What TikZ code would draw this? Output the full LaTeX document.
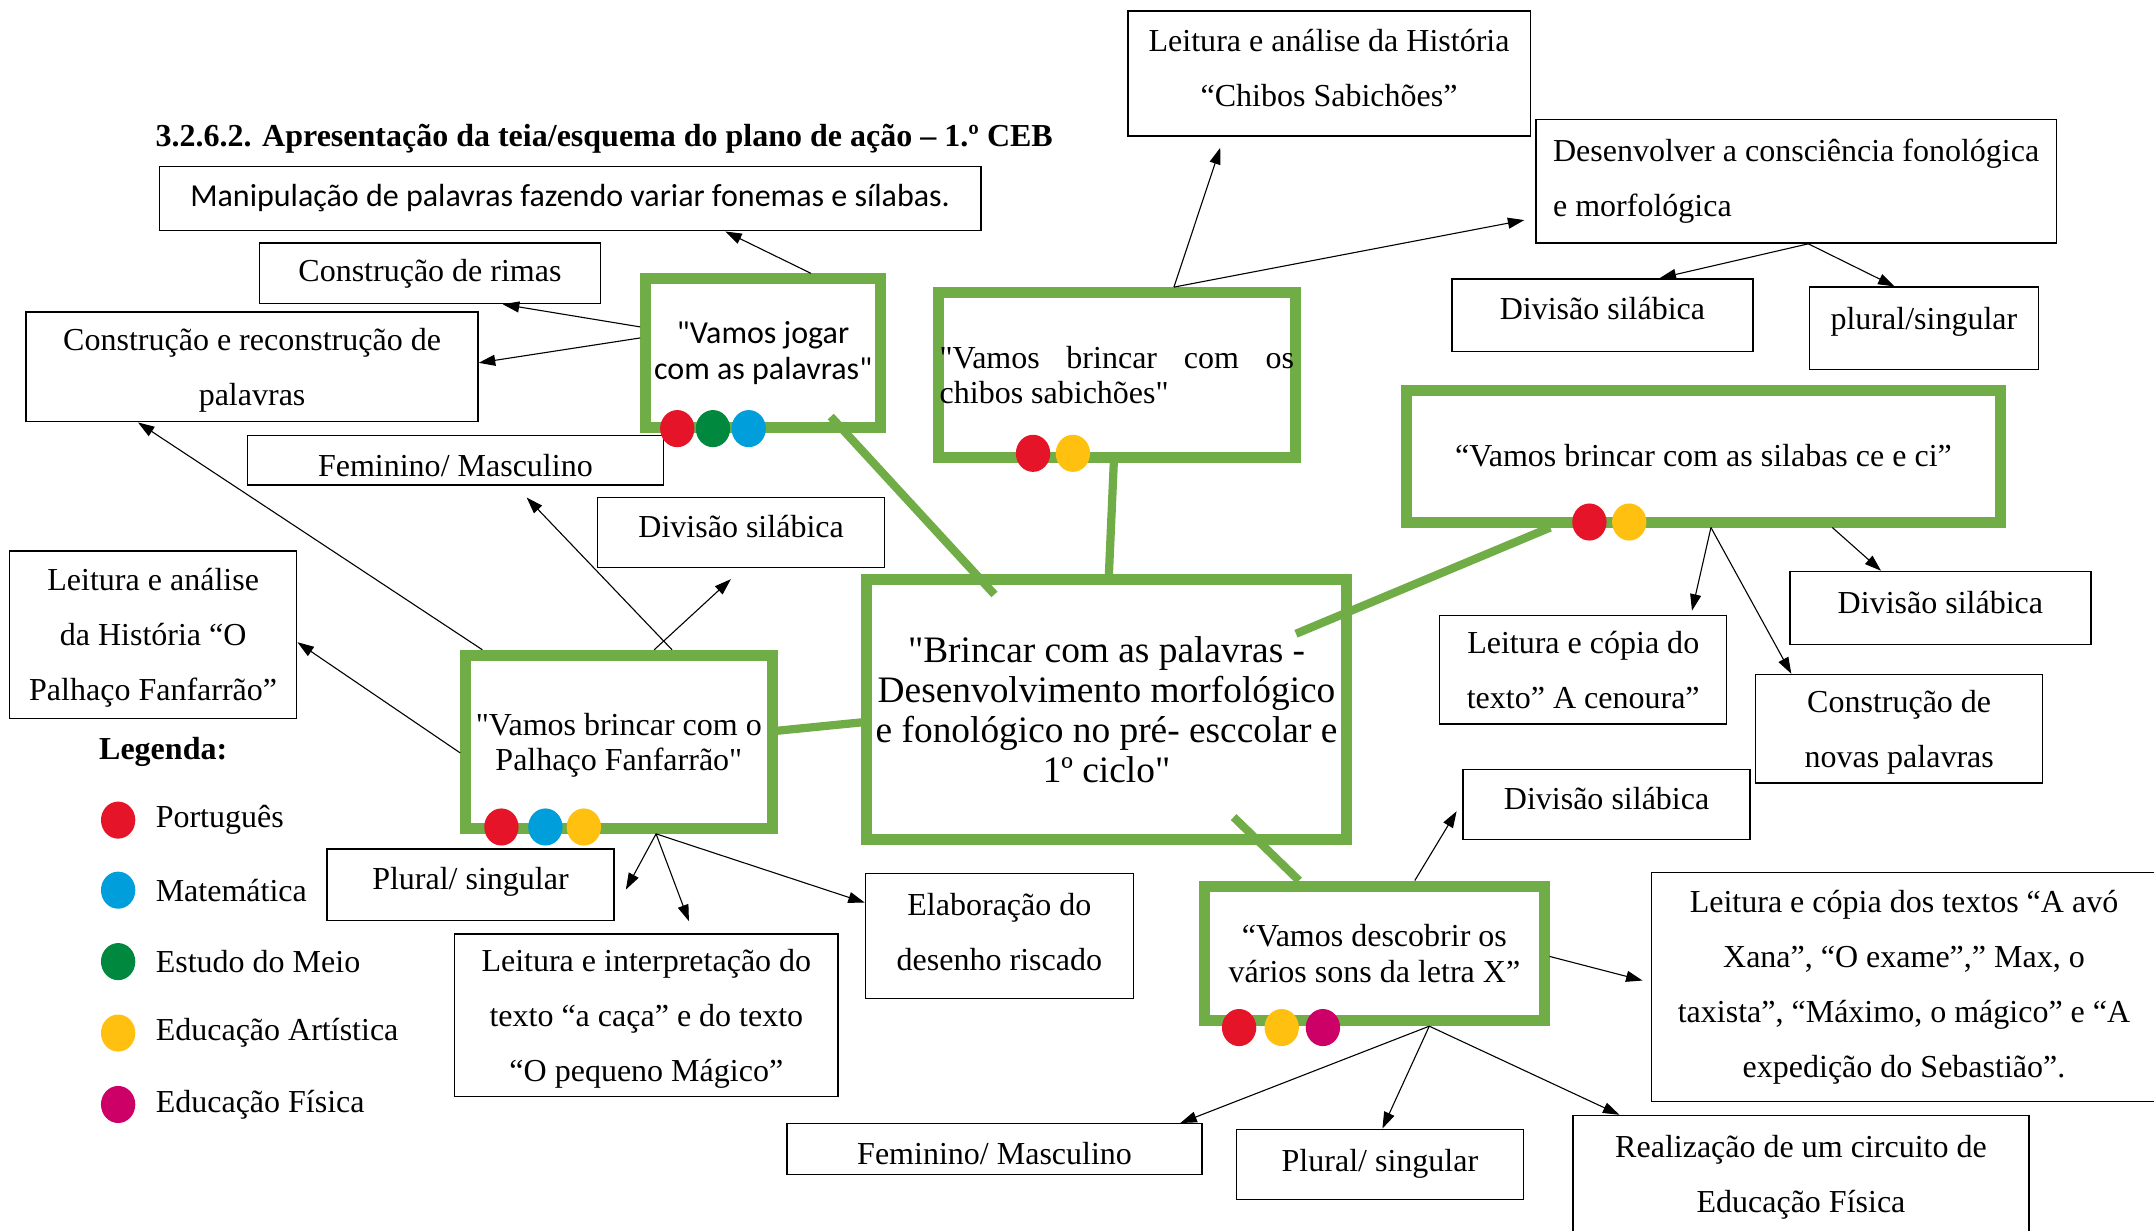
\documentclass[tikz,border=0pt]{standalone}
\usepackage{fontspec}
\setmainfont{Liberation Serif}[Ligatures=TeXOff]
\newfontfamily\calibri{Carlito}[Ligatures=TeXOff]
\usepackage{tikz}
\usetikzlibrary{shapes,arrows.meta,positioning}
\definecolor{actgreen}{RGB}{112, 173, 71}
\definecolor{port}{RGB}{230, 20, 40}
\definecolor{mat}{RGB}{0, 158, 218}
\definecolor{meio}{RGB}{0, 137, 62}
\definecolor{art}{RGB}{255, 192, 16}
\definecolor{fis}{RGB}{204, 0, 102}
\newcommand{\boxfont}{\fontsize{23.3}{40}\selectfont}
\newcommand{\actfont}{\fontsize{23.3}{26}\selectfont}
\newcommand{\hubfont}{\fontsize{27.2}{29}\selectfont}
\tikzstyle{task} = [rectangle, draw=black, line width=1pt, fill=white, align=center, inner sep=0pt, font=\boxfont]
\tikzstyle{act} = [rectangle, draw=actgreen, line width=8pt, fill=white, align=center, inner sep=0pt, font=\actfont]
\tikzstyle{hub} = [act, font=\hubfont]
\tikzstyle{subj} = [ellipse, draw=none, minimum width=25pt, minimum height=27pt, inner sep=0pt]
\tikzstyle{tedge} = [draw, line width=0.8pt, -{Triangle[length=12pt, width=8pt]}]
\tikzstyle{link} = [draw=actgreen, line width=6pt]
\tikzstyle{legtext} = [inner sep=0pt, font=\boxfont]

\begin{document}
\begin{tikzpicture}[x=1pt, y=-1pt]
\useasboundingbox (0,0) rectangle (1568,896);

% Title and legend =============================
\node[anchor=west, inner sep=0pt, font=\boxfont\bfseries] (title) at (113,101) {3.2.6.2. Apresentação da teia/esquema do plano de ação – 1.º CEB};
\node[anchor=west, inner sep=0pt, font=\boxfont\bfseries] (legenda) at (72,547) {Legenda:};
\foreach \y/\c/\t [count=\i] in {597/port/Português, 648/mat/Matemática, 700/meio/Estudo do Meio, 752/art/Educação Artística, 804/fis/Educação Física}{
  \node[subj, fill=\c] (leg-dot-\i) at (86,\y) {};
  \node[legtext, right=14.5pt of leg-dot-\i] (leg-\i) {\t};
}

% Activities =============================
\node[hub, minimum width=349pt, minimum height=189pt, text depth=-2pt] (brincar) at (805.5,516.5) {"Brincar com as palavras -\\Desenvolvimento morfológico\\e fonológico no pré- esccolar e\\1º ciclo"};
\node[act, minimum width=171pt, minimum height=108pt, font=\calibri\actfont] (jogar) at (555.5,257) {"Vamos jogar\\com as palavras"};
\node[act, minimum width=260pt, minimum height=120pt, text width=258pt, align=justify] (chibos) at (813,273) {"Vamos brincar com os \mbox{chibos} sabichões"};
\node[act, minimum width=432pt, minimum height=96pt] (cece) at (1240,332) {“Vamos brincar com as silabas ce e ci”};
\node[act, minimum width=223pt, minimum height=126pt, text depth=-5pt] (palhaco) at (450.5,540) {"Vamos brincar com o\\Palhaço Fanfarrão"};
\node[act, minimum width=247pt, minimum height=98pt] (letrax) at (1000.5,694) {“Vamos descobrir os\\vários sons da letra X”};

% Tasks =============================
\node[task, minimum width=598pt, minimum height=47pt, font=\calibri\boxfont] (manip) at (415,144.5) {Manipulação de palavras fazendo variar fonemas e sílabas.};
\node[task, minimum width=248pt, minimum height=44pt] (rimas) at (313,199) {Construção de rimas};
\node[task, minimum width=329pt, minimum height=80pt, text depth=-5pt] (reconst) at (183.5,267) {Construção e reconstrução de\\palavras};
\node[task, minimum width=303pt, minimum height=36pt, text height=24pt] (fem-left) at (331.5,335) {Feminino/ Masculino};
\node[task, minimum width=209pt, minimum height=51pt, text depth=8pt] (div-left) at (539.5,387.5) {Divisão silábica};
\node[task, minimum width=209pt, minimum height=122pt, text depth=-1pt] (palhaco-left) at (111.5,462) {Leitura e análise\\da História “O\\Palhaço Fanfarrão”};
\node[task, minimum width=209pt, minimum height=52pt, text depth=9pt] (plural-left) at (342.5,644) {Plural/ singular};
\node[task, minimum width=279pt, minimum height=118pt, text depth=-7pt] (interp) at (470.5,739) {Leitura e interpretação do\\texto “a caça” e do texto\\“O pequeno Mágico”};
\node[task, minimum width=195pt, minimum height=91pt, text depth=6pt] (elab) at (727.5,681.5) {Elaboração do\\desenho riscado};
\node[task, minimum width=293pt, minimum height=91pt, text depth=8pt] (chibos-top) at (967.5,53.5) {Leitura e análise da História\\“Chibos Sabichões”};
\node[task, minimum width=379pt, minimum height=90pt, align=left] (desenv) at (1307.5,132) {Desenvolver a consciência fonológica\\e morfológica};
\node[task, minimum width=219pt, minimum height=53pt, text depth=10pt] (div-top) at (1166.5,229.5) {Divisão silábica};
\node[task, minimum width=167pt, minimum height=60pt, text depth=15pt] (plural-top) at (1400.5,239) {plural/singular};
\node[task, minimum width=219pt, minimum height=53pt, text depth=8pt] (div-right) at (1412.5,442.5) {Divisão silábica};
\node[task, minimum width=209pt, minimum height=79pt] (cenoura) at (1152.5,487.5) {Leitura e cópia do\\texto” A cenoura”};
\node[task, minimum width=209pt, minimum height=79pt, text depth=-3pt] (novas) at (1382.5,530.5) {Construção de\\novas palavras};
\node[task, minimum width=209pt, minimum height=51pt, text depth=8pt] (div-bottom) at (1169.5,585.5) {Divisão silábica};
\node[task, minimum width=368pt, minimum height=167pt] (textos) at (1386,718.5) {Leitura e cópia dos textos “A avó\\Xana”, “O exame”,” Max, o\\taxista”, “Máximo, o mágico” e “A\\expedição do Sebastião”.};
\node[task, minimum width=302pt, minimum height=37pt, text height=22pt] (fem-bottom) at (724,836.5) {Feminino/ Masculino};
\node[task, minimum width=209pt, minimum height=51pt] (plural-bottom) at (1004.5,847.5) {Plural/ singular};
\node[task, minimum width=332pt, minimum height=90pt] (circuito) at (1311,857) {Realização de um circuito de\\Educação Física};

% green links
\path[link, shorten <=-16pt, shorten >=-20pt] (jogar.-44.8) -- (brincar.134.4);
\path[link] (chibos.-92.7) -- (brincar.89.1);
\path[link, shorten >=-44pt] (cece.-155.9) -- (brincar.22.9);
\path[link] (palhaco.4.5) -- (brincar.-177);
\path[link, shorten <=-29pt] (brincar.-41.8) -- (letrax.136.3);

% subjects
\foreach \x/\c [count=\i] in {493/port, 519/meio, 545/mat} \node[subj, fill=\c] (jogar-dot-\i) at (\x,312) {};
\foreach \x/\c [count=\i] in {752/port, 781/art} \node[subj, fill=\c] (chibos-dot-\i) at (\x,330) {};
\foreach \x/\c [count=\i] in {1157/port, 1186/art} \node[subj, fill=\c] (cece-dot-\i) at (\x,380) {};
\foreach \x/\c [count=\i] in {365/port, 397/mat, 425/art} \node[subj, fill=\c] (palhaco-dot-\i) at (\x,602) {};
\foreach \x/\c [count=\i] in {902/port, 933/art, 963/fis} \node[subj, fill=\c] (letrax-dot-\i) at (\x,748) {};

% edges
\path[tedge] (jogar.59) -- (manip.-12.6);
\path[tedge] (jogar.168) -- (rimas.-23.7);
\path[tedge] (jogar.173) -- (reconst.1.4);

\path[tedge, shorten >=8.5pt] (chibos.57) -- (chibos-top.-149);
\path[tedge, shorten >=8pt] (chibos.57) -- (desenv.-172);
\path[tedge] (desenv.-79.3) -- (div-top.33.2);
\path[tedge] (desenv.-79.3) -- (plural-top.125.6);

\path[tedge, shorten >=3pt] (cece.-84.5) -- (cenoura.27.9);
\path[tedge] (cece.-84.5) -- (novas.153);
\path[tedge] (cece.-29.2) -- (div-right.148.6);

\path[tedge] (palhaco.146) -- (reconst.-154.4);
\path[tedge, shorten >=12pt] (palhaco.60.8) -- (fem-left.-23);
\path[tedge, shorten >=12pt] (palhaco.69.9) -- (div-left.-87);
\path[tedge] (palhaco.-176) -- (palhaco-left.-3.3);
\path[tedge, shorten >=17pt] (palhaco.-68.4) -- (plural-left.-10.5);
\path[tedge, shorten >=9.5pt] (palhaco.-68.4) -- (interp.60.4);
\path[tedge] (palhaco.-68.4) -- (elab.166.4);

\path[tedge, shorten >=8pt] (letrax.61.7) -- (div-bottom.179);
\path[tedge, shorten >=6pt] (letrax.-1.35) -- (textos.179.8);
\path[tedge] (letrax.-53.3) -- (fem-bottom.8);
\path[tedge] (letrax.-53.3) -- (plural-bottom.86.6);
\path[tedge] (letrax.-53.3) -- (circuito.161.8);

\end{tikzpicture}
\end{document}
